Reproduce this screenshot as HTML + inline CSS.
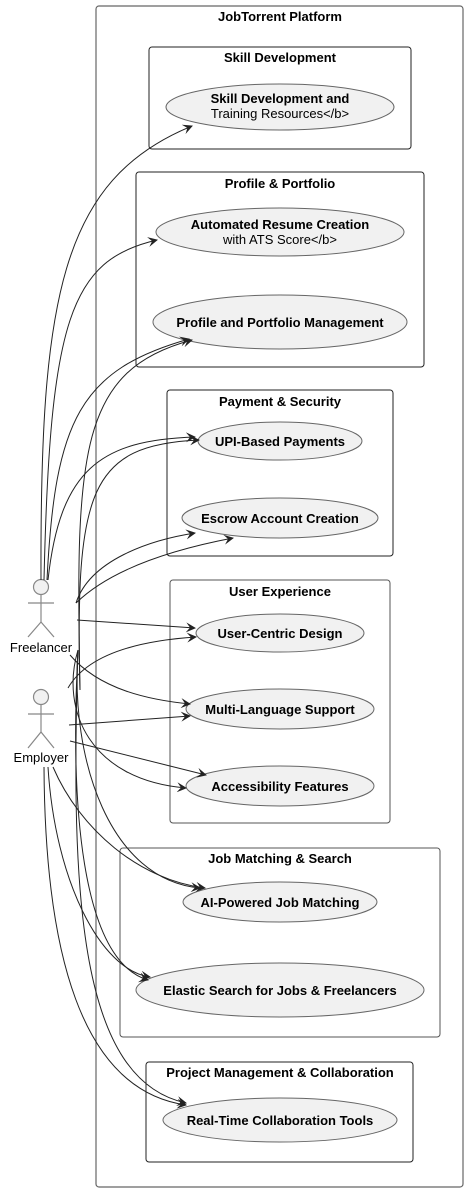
<!DOCTYPE html>
<html><head><meta charset="utf-8"><style>
html,body{margin:0;padding:0;background:#fff;}
svg{display:block;}
text{font-family:"Liberation Sans",sans-serif;fill:#000;}
</style></head><body>
<svg width="470" height="1193" viewBox="0 0 470 1193" xmlns="http://www.w3.org/2000/svg">
<defs>
<marker id="a" viewBox="0 0 10 10" refX="9" refY="5" markerWidth="10" markerHeight="10" markerUnits="userSpaceOnUse" orient="auto">
<path d="M0,0 L10,5 L0,10 L4,5 Z" fill="#222"/>
</marker>
</defs>
<g fill="none" stroke="#666" stroke-width="1.2">
<rect x="96" y="6" width="367" height="1181" rx="3"/>
</g>
<g fill="none" stroke="#222" stroke-width="1">
<rect x="149" y="47" width="262" height="102" rx="3"/>
<rect x="136" y="172" width="288" height="195" rx="3"/>
<rect x="167" y="390" width="226" height="166" rx="3"/>
<rect x="170" y="580" width="220" height="243" rx="3" stroke="#555"/>
<rect x="120" y="848" width="320" height="189" rx="3" stroke="#555"/>
<rect x="146" y="1062" width="267" height="100" rx="3"/>
</g>
<g font-size="13" font-weight="bold" text-anchor="middle">
<text x="280" y="21">JobTorrent Platform</text>
<text x="280" y="62">Skill Development</text>
<text x="280" y="188">Profile &amp; Portfolio</text>
<text x="280" y="406">Payment &amp; Security</text>
<text x="280" y="596">User Experience</text>
<text x="280" y="863">Job Matching &amp; Search</text>
<text x="280" y="1077">Project Management &amp; Collaboration</text>
</g>
<g fill="#f1f1f1" stroke="#666" stroke-width="1">
<ellipse cx="280" cy="107" rx="114" ry="23"/>
<ellipse cx="280" cy="232" rx="124" ry="24"/>
<ellipse cx="280" cy="322" rx="127" ry="27"/>
<ellipse cx="280" cy="441" rx="82" ry="19"/>
<ellipse cx="280" cy="518" rx="98" ry="20"/>
<ellipse cx="280" cy="633" rx="84" ry="19"/>
<ellipse cx="280" cy="709" rx="94" ry="20"/>
<ellipse cx="280" cy="786" rx="94" ry="20"/>
<ellipse cx="280" cy="902" rx="97" ry="20"/>
<ellipse cx="280" cy="990" rx="144" ry="27"/>
<ellipse cx="280" cy="1120" rx="117" ry="22"/>
</g>
<g font-size="13" text-anchor="middle">
<text x="280" y="103" font-weight="bold">Skill Development and</text>
<text x="280" y="118" fill="#333">Training Resources&lt;/b&gt;</text>
<text x="280" y="229" font-weight="bold">Automated Resume Creation</text>
<text x="280" y="244">with ATS Score&lt;/b&gt;</text>
<text x="280" y="327" font-weight="bold">Profile and Portfolio Management</text>
<text x="280" y="446" font-weight="bold">UPI-Based Payments</text>
<text x="280" y="523" font-weight="bold">Escrow Account Creation</text>
<text x="280" y="638" font-weight="bold">User-Centric Design</text>
<text x="280" y="714" font-weight="bold">Multi-Language Support</text>
<text x="280" y="791" font-weight="bold">Accessibility Features</text>
<text x="280" y="907" font-weight="bold">AI-Powered Job Matching</text>
<text x="280" y="995" font-weight="bold">Elastic Search for Jobs &amp; Freelancers</text>
<text x="280" y="1125" font-weight="bold">Real-Time Collaboration Tools</text>
</g>
<g stroke="#888" stroke-width="1.2" fill="#f1f1f1">
<circle cx="41" cy="587" r="7.5"/>
<line x1="41" y1="595" x2="41" y2="622"/>
<line x1="28" y1="603" x2="54" y2="603"/>
<polyline points="28,637 41,622 54,637" fill="none"/>
<circle cx="41" cy="697" r="7.5"/>
<line x1="41" y1="705" x2="41" y2="732"/>
<line x1="28" y1="714" x2="54" y2="714"/>
<polyline points="28,748 41,732 54,748" fill="none"/>
</g>
<g font-size="13" text-anchor="middle">
<text x="41" y="652">Freelancer</text>
<text x="41" y="762">Employer</text>
</g>
<g fill="none" stroke="#222" stroke-width="1" marker-end="url(#a)">
<path d="M41,580 C40,300 60,180 192,126"/>
<path d="M44,580 C50,320 70,260 157,240"/>
<path d="M47,580 C55,420 80,370 189,339"/>
<path d="M48,580 C60,470 100,440 195,437"/>
<path d="M76,603 C110,570 170,550 233,538"/>
<path d="M77,620 L195,628"/>
<path d="M70,655 C100,690 150,700 190,704"/>
<path d="M78,650 C60,710 90,780 186,788"/>
<path d="M78,650 C70,760 110,880 200,888"/>
<path d="M78,650 C70,800 80,960 148,980"/>
<path d="M78,650 C70,900 80,1080 186,1103"/>
<path d="M80,690 C75,450 80,370 192,340"/>
<path d="M80,690 C75,490 90,445 199,440"/>
<path d="M76,603 C90,560 150,540 195,533"/>
<path d="M68,688 C90,650 150,640 196,637"/>
<path d="M69,725 L190,716"/>
<path d="M70,741 L206,775"/>
<path d="M53,767 C80,830 140,880 205,888"/>
<path d="M48,767 C55,880 100,970 150,977"/>
<path d="M44,767 C45,950 80,1090 186,1105"/>
</g>
</svg>
</body></html>
